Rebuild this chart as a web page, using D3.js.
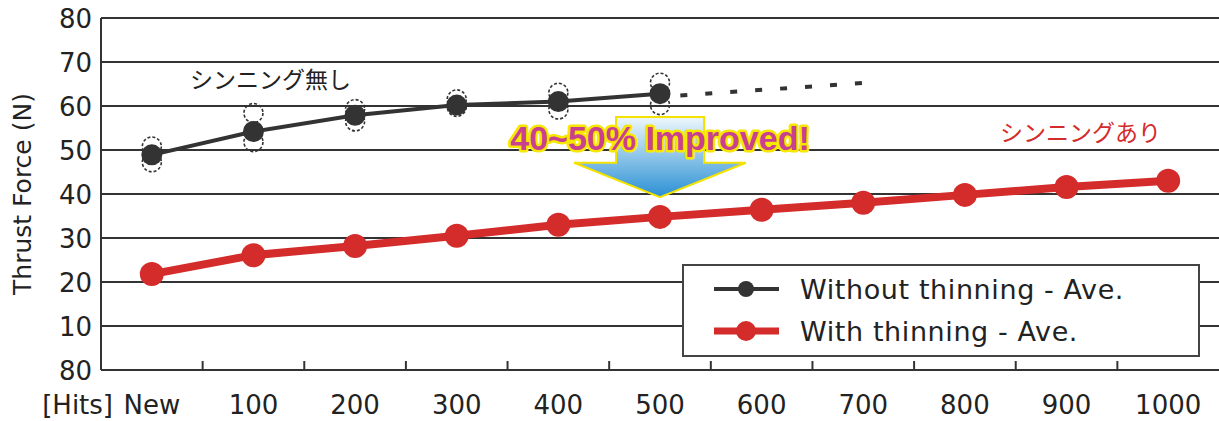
<!DOCTYPE html>
<html>
<head>
<meta charset="utf-8">
<script src="https://cdn.jsdelivr.net/npm/d3@7"></script>
<style>
  body { margin: 0; background: #fff; }
  svg { display: block; }
</style>
</head>
<body>
<div id="chart"></div>
<script>
// ---- data ----
const hits = ["New", "100", "200", "300", "400", "500", "600", "700", "800", "900", "1000"]
const withoutAve = [48.9, 54.2, 57.9, 60.2, 61.0, 62.8]
const withoutHigh = [50.8, 58.4, 59.3, 61.5, 63.0, 65.3]
const withoutLow = [47.2, 51.8, 56.5, 59.8, 59.2, 60.2]
const withAve = [21.8, 26.1, 28.2, 30.5, 33.0, 34.8, 36.4, 38.0, 39.8, 41.6, 43.0]
const trendHits = [520, 710]
const trendVals = [62.4, 65.4]
const yTicks = [0, 10, 20, 30, 40, 50, 60, 70, 80]
const yTickLabels = ["80", "10", "20", "30", "40", "50", "60", "70", "80"]

const width = 1219, height = 421
const margin = { left: 101, top: 18, right: 0, bottom: 51 }
const black = "#333", red = "#d42b2b"

const svg = d3.select("#chart").append("svg")
  .attr("width", width).attr("height", height)

const x = d3.scaleBand().domain(hits).range([margin.left, width - margin.right])
const xl = d3.scaleLinear().domain([-50, 1050]).range([margin.left, width - margin.right])
const y = d3.scaleLinear().domain([0, 80]).range([height - margin.bottom, margin.top])
const cx = (d, i) => x(hits[i]) + x.bandwidth() / 2

const defs = svg.append("defs")
const grad = defs.append("linearGradient").attr("id", "arrowGrad")
  .attr("x1", 0).attr("y1", 0).attr("x2", 0).attr("y2", 1)
grad.append("stop").attr("offset", "0%").attr("stop-color", "#eef7fc")
grad.append("stop").attr("offset", "100%").attr("stop-color", "#2a90d4")

// gridlines
svg.append("g").selectAll("line").data(yTicks).enter().append("line")
  .attr("x1", margin.left).attr("x2", width)
  .attr("y1", d => y(d)).attr("y2", d => y(d))
  .attr("stroke", black).attr("stroke-width", 2)

// left axis line
svg.append("line")
  .attr("x1", margin.left).attr("x2", margin.left)
  .attr("y1", y(80)).attr("y2", y(0))
  .attr("stroke", black).attr("stroke-width", 2)

// y labels
svg.append("g").selectAll("text").data(yTicks).enter().append("text")
  .attr("x", margin.left - 9).attr("y", d => y(d) + 9.5)
  .attr("text-anchor", "end")
  .style("font-family", "DejaVu Sans").style("font-size", "26px").style("fill", "#222")
  .text((d, i) => yTickLabels[i])

// x ticks between categories
svg.append("g").selectAll("line").data(hits.slice(1)).enter().append("line")
  .attr("x1", d => x(d)).attr("x2", d => x(d))
  .attr("y1", y(0)).attr("y2", y(0) - 9)
  .attr("stroke", black).attr("stroke-width", 2)

svg.append("g").selectAll("text").data(hits).enter().append("text")
  .attr("x", cx).attr("y", 414)
  .attr("text-anchor", "middle")
  .style("font-family", "DejaVu Sans").style("font-size", "26px").style("fill", "#222")
  .text(d => d)

svg.append("text")
  .attr("x", 113).attr("y", 414).attr("text-anchor", "end")
  .style("font-family", "DejaVu Sans").style("font-size", "26px").style("fill", "#222")
  .text("[Hits]")

// y title
svg.append("text")
  .attr("transform", "translate(31," + (y(0) + y(80)) / 2 + ") rotate(-90)")
  .attr("text-anchor", "middle")
  .style("font-family", "DejaVu Sans").style("font-size", "25px").style("fill", "#222")
  .text("Thrust Force (N)")

// ---- without thinning ----
const line = d3.line().x(cx).y(d => y(d))

svg.append("path").datum(withoutAve)
  .attr("d", line).attr("fill", "none")
  .attr("stroke", black).attr("stroke-width", 4)

svg.append("path").datum(trendVals)
  .attr("d", d3.line().x((d, i) => xl(trendHits[i])).y(d => y(d)))
  .attr("fill", "none").attr("stroke", black).attr("stroke-width", 4)
  .attr("stroke-dasharray", "7,18")

const samples = withoutHigh.map((v, i) => ({ i: i, v: v })).concat(withoutLow.map((v, i) => ({ i: i, v: v })))
svg.append("g").selectAll("circle").data(samples).enter().append("circle")
  .attr("cx", d => cx(null, d.i)).attr("cy", d => y(d.v)).attr("r", 9.5)
  .attr("fill", "none").attr("stroke", black).attr("stroke-width", 1.6)
  .attr("stroke-dasharray", "3,2")

svg.append("g").selectAll("circle").data(withoutAve).enter().append("circle")
  .attr("cx", cx).attr("cy", d => y(d)).attr("r", 10.5)
  .attr("fill", black)

// ---- with thinning ----
svg.append("path").datum(withAve)
  .attr("d", line).attr("fill", "none")
  .attr("stroke", red).attr("stroke-width", 8)

svg.append("g").selectAll("circle").data(withAve).enter().append("circle")
  .attr("cx", cx).attr("cy", d => y(d)).attr("r", 12)
  .attr("fill", red)

// ---- annotations ----
svg.append("text")
  .attr("x", 190).attr("y", 88)
  .style("font-family", "Noto Sans CJK JP").style("font-size", "23px").style("fill", "#222")
  .text("シンニング無し")

svg.append("text")
  .attr("x", 1000).attr("y", 141)
  .style("font-family", "Noto Sans CJK JP").style("font-size", "23px").style("fill", red)
  .text("シンニングあり")

// arrow
const ax = cx(null, 5)
const arrowPts = [
  [ax - 44, y(57.5)], [ax + 44, y(57.5)], [ax + 44, y(47.1)], [ax + 86, y(47.1)],
  [ax, y(39.3)], [ax - 86, y(47.1)], [ax - 44, y(47.1)]
]
svg.append("path")
  .attr("d", "M" + arrowPts.map(p => p.join(",")).join("L") + "Z")
  .attr("fill", "url(#arrowGrad)").attr("stroke", "#f4e300").attr("stroke-width", 2)

svg.append("text")
  .attr("x", ax).attr("y", 150).attr("text-anchor", "middle")
  .style("font-family", "Liberation Sans").style("font-weight", "bold").style("font-size", "34px")
  .style("fill", "#c8408f").style("stroke", "#f6e800").style("stroke-width", 5)
  .style("paint-order", "stroke").style("stroke-linejoin", "round")
  .text("40~50% Improved!")

// ---- legend ----
const legend = svg.append("g")
legend.append("rect")
  .attr("x", 683).attr("y", 265).attr("width", 516).attr("height", 91)
  .attr("fill", "#fff").attr("stroke", "#444").attr("stroke-width", 2)

const legendItems = [
  { label: "Without thinning - Ave.", color: black, w: 4, r: 8 },
  { label: "With thinning - Ave.", color: red, w: 7, r: 10 }
]
legendItems.forEach((d, i) => {
  const ly = 289 + i * 42
  legend.append("line")
    .attr("x1", 714).attr("x2", 779).attr("y1", ly).attr("y2", ly)
    .attr("stroke", d.color).attr("stroke-width", d.w)
  legend.append("circle")
    .attr("cx", 746).attr("cy", ly).attr("r", d.r).attr("fill", d.color)
  legend.append("text")
    .attr("x", 800).attr("y", ly + 10)
    .style("font-family", "DejaVu Sans").style("font-size", "27px").style("fill", "#222")
    .style("letter-spacing", "0.6px")
    .text(d.label)
})
</script>
</body>
</html>
